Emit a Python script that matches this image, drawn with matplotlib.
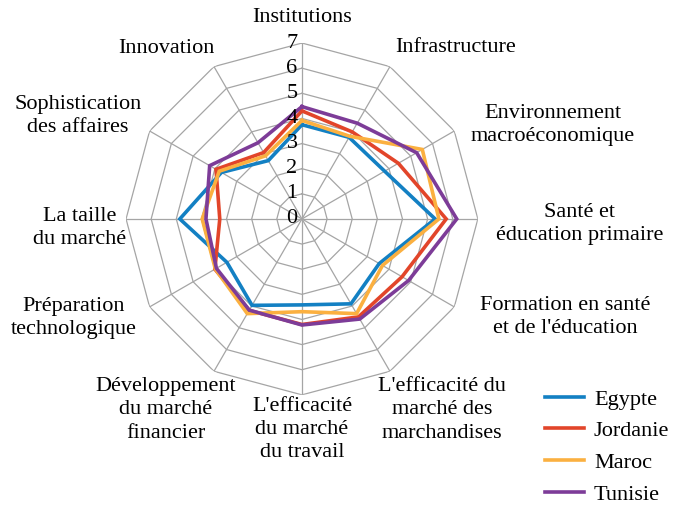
import matplotlib
matplotlib.use('Agg')
import matplotlib.pyplot as plt
import numpy as np

plt.rcParams['font.family'] = ['Liberation Serif', 'DejaVu Serif']

categories = ['Institutions', 'Infrastructure', 'Environnement\nmacroéconomique',
              'Santé et\néducation primaire', "Formation en santé\net de l'éducation",
              "L'efficacité du\nmarché des\nmarchandises", "L'efficacité\ndu marché\ndu travail",
              'Développement\ndu marché\nfinancier', 'Préparation\ntechnologique',
              'La taille\ndu marché', 'Sophistication\ndes affaires', 'Innovation']

egypte   = [3.75, 3.75, 3.8, 5.3, 3.55, 3.9, 3.42, 3.97, 3.45, 4.86, 3.7, 2.68]
jordanie = [4.3, 4.0, 4.43, 5.74, 4.6, 4.5, 4.2, 4.2, 4.0, 3.27, 3.95, 3.05]
maroc    = [3.92, 3.8, 5.53, 5.45, 3.7, 4.35, 3.69, 4.35, 3.98, 3.97, 3.8, 2.9]
tunisie  = [4.47, 4.4, 5.27, 6.16, 4.9, 4.6, 4.22, 4.19, 3.93, 3.82, 4.24, 3.5]

series = [('Egypte', egypte, '#1380C3'), ('Jordanie', jordanie, '#E2452A'),
          ('Maroc', maroc, '#FBB040'), ('Tunisie', tunisie, '#7D3C98')]

# label anchor points (angle in degrees, radius in data units)
label_theta = [0, 42, 69.5, 91, 110.4, 143.8, 180, 215.5, 246.5, 267.7, 294.7, 321.5]
label_r     = [8.0, 9.16, 10.66, 11.06, 11.17, 9.42, 8.39, 9.33, 9.89, 8.84, 9.81, 8.69]

n = len(categories)
angles = np.arange(n) * 2 * np.pi / n
closed = np.append(angles, angles[0])

fig = plt.figure(figsize=(6.74, 5.08), dpi=100)
ax = fig.add_axes([0.187, 0.2225, 0.522, 0.693], projection='polar')
ax.set_theta_zero_location('N')
ax.set_theta_direction(-1)
ax.set_ylim(0, 7)
ax.grid(False)
ax.spines['polar'].set_visible(False)
ax.set_xticks([])
ax.set_yticks([])
ax.patch.set_alpha(0)

grid_col = '#a5a5a5'
for lvl in range(1, 8):
    ax.plot(closed, [lvl] * (n + 1), color=grid_col, lw=0.9, zorder=1)
for a in angles:
    ax.plot([a, a], [0, 7], color=grid_col, lw=0.9, zorder=1)

for lvl in range(0, 8):
    ax.annotate(str(lvl), xy=(0, lvl), xytext=(-10, 0), textcoords='offset pixels',
                ha='center', va='center', fontsize=16, zorder=5)

for name, vals, col in series:
    ax.plot(closed, vals + vals[:1], color=col, lw=2.6, label=name, zorder=3,
            solid_joinstyle='miter')

for lab, th, r in zip(categories, label_theta, label_r):
    ax.text(np.deg2rad(th), r, lab, ha='center', va='center', fontsize=16,
            multialignment='center', linespacing=1.3, clip_on=False)

fig.legend(loc='upper left', bbox_to_anchor=(545 / 674, 1 - 389 / 508),
           frameon=False, fontsize=16, handlelength=1.75, handletextpad=0.45,
           labelspacing=0.5, borderpad=0, borderaxespad=0)

fig.savefig('out.png', dpi=100)
